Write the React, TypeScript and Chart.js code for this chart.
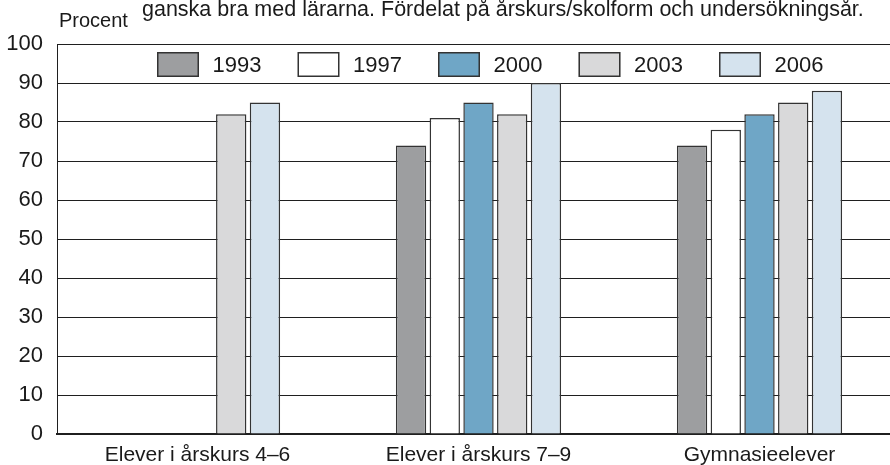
import React, { useEffect, useRef } from 'react';
import { Chart, registerables } from 'chart.js';

Chart.register(...registerables);

const categories = ['Elever i årskurs 4–6', 'Elever i årskurs 7–9', 'Gymnasieelever'];
const years = ['1993', '1997', '2000', '2003', '2006'];
const v1993 = [null, 74, 74];
const v1997 = [null, 81, 78];
const v2000 = [null, 85, 82];
const v2003 = [82, 82, 85];
const v2006 = [85, 90, 88];
const seriesValues = [v1993, v1997, v2000, v2003, v2006];
const seriesColors = ['#9d9ea0', '#ffffff', '#6fa6c6', '#d9d9da', '#d5e3ee'];
const titleText = 'ganska bra med lärarna. Fördelat på årskurs/skolform och undersökningsår.';
const yAxisTitle = 'Procent';
const yMin = 0;
const yMax = 100;
const yStep = 10;

const FONT = '"Liberation Sans", Arial, sans-serif';
const TEXT = '#1a1a1a';
const LINE = '#1f1f1f';

const overlay = {
  id: 'overlay',
  afterDraw(chart: any) {
    const ctx = chart.ctx;
    ctx.save();
    ctx.fillStyle = TEXT;
    ctx.textAlign = 'left';
    ctx.textBaseline = 'alphabetic';
    ctx.font = `21.5px ${FONT}`;
    ctx.fillText(titleText, 142, 16);
    ctx.font = `20px ${FONT}`;
    ctx.fillText(yAxisTitle, 59, 27);
    ctx.font = `22px ${FONT}`;
    chart.data.datasets.forEach((ds: any, i: number) => {
      const x = 157 + i * 140.5;
      const y = 52;
      ctx.fillStyle = ds.backgroundColor;
      ctx.fillRect(x, y, 42, 25);
      ctx.strokeStyle = '#333';
      ctx.lineWidth = 1.5;
      ctx.strokeRect(x + 0.75, y + 0.75, 40.5, 23.5);
      ctx.fillStyle = TEXT;
      ctx.fillText(ds.label, x + 55.5, y + 20);
    });
    ctx.restore();
  },
};

export default function App() {
  const ref = useRef<HTMLCanvasElement>(null);
  useEffect(() => {
    if (!ref.current) return;
    const chart = new Chart(ref.current, {
      type: 'bar',
      data: {
        labels: categories,
        datasets: years.map((y, i) => ({
          label: y,
          data: seriesValues[i],
          backgroundColor: seriesColors[i],
          borderColor: '#333',
          borderWidth: 1.5,
          categoryPercentage: 0.6,
          barPercentage: 0.9,
        })),
      },
      options: {
        animation: false,
        responsive: false,
        devicePixelRatio: 1,
        events: [],
        layout: { padding: { top: 44, left: 0, right: 0, bottom: 0 } },
        plugins: {
          legend: { display: false },
          title: { display: false },
          tooltip: { enabled: false },
        },
        scales: {
          x: {
            grid: { display: false, drawTicks: false },
            border: { display: true, color: LINE, width: 2 },
            ticks: {
              color: TEXT,
              font: { family: FONT, size: 21 },
              padding: 9,
              maxRotation: 0,
              autoSkip: false,
            },
            afterFit: (s: any) => { s.height = 31; },
          },
          y: {
            min: yMin,
            max: yMax,
            grid: { color: LINE, lineWidth: 1, drawTicks: false },
            border: { display: true, color: LINE, width: 1 },
            ticks: {
              stepSize: yStep,
              color: TEXT,
              font: { family: FONT, size: 22 },
              padding: 14,
            },
            afterFit: (s: any) => { s.width = 57; },
          },
        },
      },
      plugins: [overlay],
    } as any);
    return () => chart.destroy();
  }, []);
  return (
    <div style={{ position: 'fixed', left: 0, top: 0, width: 890, height: 465, overflow: 'hidden', background: '#fff' }}>
      <canvas ref={ref} width={900} height={465} style={{ display: 'block' }} />
    </div>
  );
}
